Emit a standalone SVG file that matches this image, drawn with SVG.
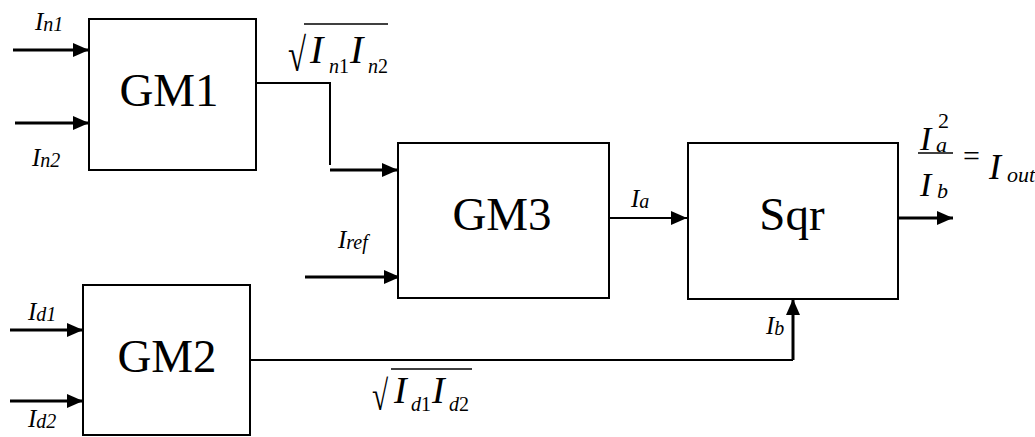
<svg xmlns="http://www.w3.org/2000/svg" width="1035" height="437" viewBox="0 0 1035 437">
<style>
text{font-family:'Liberation Serif','Times New Roman',serif;fill:#000}
.nt{font-size:47px;text-anchor:middle}
.mi{font-style:italic}
.box{fill:#fff;stroke:#000;stroke-width:2}
.w{fill:none;stroke:#000;stroke-width:3}
.t{fill:none;stroke:#000;stroke-width:2}
.v{stroke:#000;stroke-width:1.5}
.a{marker-end:url(#ah)}
</style>
<defs>
<marker id="ah" markerUnits="userSpaceOnUse" markerWidth="16" markerHeight="14" refX="16" refY="7" orient="auto">
<path d="M0,0 L16,7 L0,14 z" fill="#000"/>
</marker>
</defs>
<rect width="1035" height="437" fill="#fff"/>
<g id="connectors">
<path class="w a" d="M13,50 H89"/>
<path class="w a" d="M15,123 H89"/>
<path class="t" d="M256,83 H330 V165"/>
<path class="w a" d="M330,170 H398"/>
<path class="w a" d="M305,277 H400"/>
<path class="t a" d="M609,218 H687"/>
<path class="w a" d="M898,218 H953"/>
<path class="t" d="M250,360 H793"/>
<path class="w a" d="M793,360 V299"/>
<path class="w a" d="M10,330 H83"/>
<path class="w a" d="M10,401 H83"/>
</g>
<g id="GM1">
<rect class="box" x="89" y="19" width="167" height="151"/>
<text class="nt" x="169" y="106">GM1</text>
</g>
<g id="GM3">
<rect class="box" x="398" y="143" width="211" height="155"/>
<text class="nt" x="502" y="230">GM3</text>
</g>
<g id="Sqr">
<rect class="box" x="688" y="143" width="210" height="156"/>
<text class="nt" x="792" y="230">Sqr</text>
</g>
<g id="GM2">
<rect class="box" x="83" y="285" width="167" height="150"/>
<text class="nt" x="167" y="372">GM2</text>
</g>
<g id="labels">
<text class="mi" x="35" y="30" font-size="25">I<tspan font-size="20" dy="1">n1</tspan></text>
<text class="mi" x="32" y="166" font-size="25">I<tspan font-size="20" dy="1">n2</tspan></text>
<text class="mi" x="28" y="320" font-size="25">I<tspan font-size="20" dy="1">d1</tspan></text>
<text class="mi" x="28" y="427" font-size="25">I<tspan font-size="20" dy="1">d2</tspan></text>
<text class="mi" x="338" y="248" font-size="25">I<tspan font-size="20" dy="1">ref</tspan></text>
<text class="mi" x="631" y="207" font-size="25">I<tspan font-size="20" dy="1">a</tspan></text>
<text class="mi" x="766" y="334" font-size="25">I<tspan font-size="20" dy="1">b</tspan></text>
<text transform="translate(288,71) scale(0.7,1)" font-size="47">√</text>
<line class="v" x1="304" y1="24" x2="388" y2="24"/>
<text class="mi" x="310" y="63" font-size="40">I</text>
<text class="mi" x="329" y="73" font-size="20">n</text>
<text x="339" y="73" font-size="20">1</text>
<text class="mi" x="350" y="63" font-size="40">I</text>
<text class="mi" x="368" y="73" font-size="20">n</text>
<text x="378" y="73" font-size="20">2</text>
<text transform="translate(372,410) scale(0.7,1)" font-size="42">√</text>
<line class="v" x1="391" y1="369" x2="472" y2="369"/>
<text class="mi" x="394" y="403" font-size="38">I</text>
<text class="mi" x="411" y="411" font-size="20">d</text>
<text x="421" y="411" font-size="20">1</text>
<text class="mi" x="432" y="403" font-size="38">I</text>
<text class="mi" x="449" y="411" font-size="20">d</text>
<text x="459" y="411" font-size="20">2</text>
<text class="mi" x="920" y="150" font-size="34">I</text>
<text class="mi" x="936" y="152" font-size="22">a</text>
<text x="938" y="128" font-size="22">2</text>
<line class="v" x1="918" y1="153" x2="953" y2="153"/>
<text class="mi" x="920" y="196" font-size="34">I</text>
<text class="mi" x="937" y="198" font-size="22">b</text>
<text x="963" y="166" font-size="30">=</text>
<text class="mi" x="989" y="179" font-size="36">I</text>
<text class="mi" x="1007" y="182" font-size="22">out</text>
</g>
</svg>
